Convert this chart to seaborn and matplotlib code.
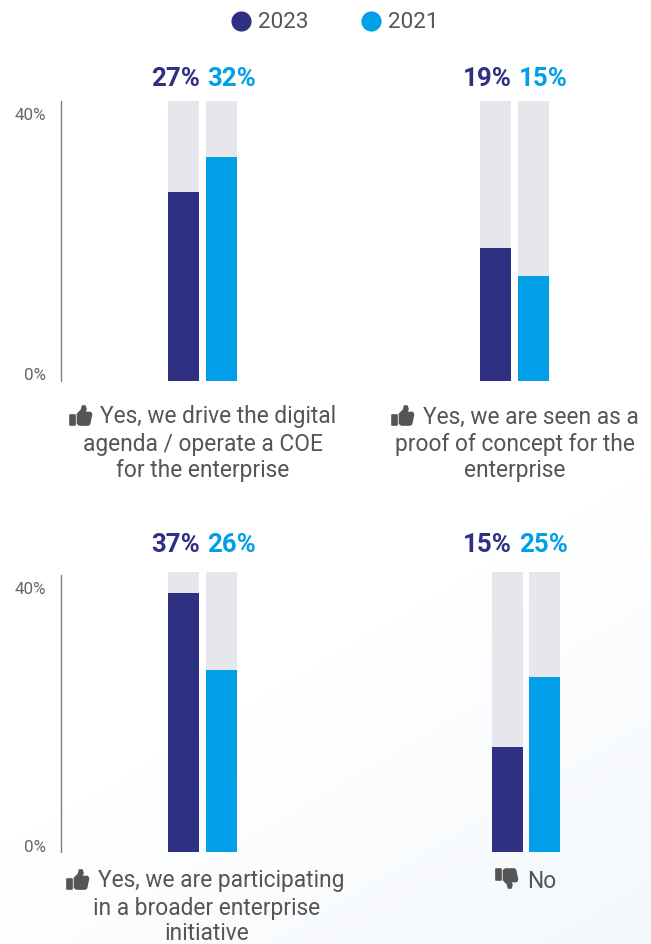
import matplotlib
matplotlib.use("Agg")
import matplotlib.pyplot as plt
import numpy as np
import pandas as pd
import seaborn as sns
from matplotlib.lines import Line2D
from matplotlib.patches import Polygon

sns.set_style("white")
plt.rcParams['font.family'] = ['Roboto', 'DejaVu Sans']

W, H = 651, 944
NAVY, BLUE, TRACK, GREY = "#2e3182", "#009fe8", "#e6e7ec", "#555558"

years = ["2023", "2021"]
values_a = [27, 32]
values_b = [19, 15]
values_c = [37, 26]
values_d = [15, 25]
track_max = 40
labels_a = ["Yes, we drive the digital", "agenda / operate a COE", "for the enterprise"]
labels_b = ["Yes, we are seen as a", "proof of concept for the", "enterprise"]
labels_c = ["Yes, we are participating", "in a broader enterprise", "initiative"]
labels_d = ["No"]

fig = plt.figure(figsize=(W / 100, H / 100), dpi=100)


def fx(x):
    return x / W


def fy(y):
    return 1 - y / H


def put_text(x, y, s, **kw):
    kw.setdefault("color", GREY)
    kw.setdefault("va", "center")
    fig.text(fx(x), fy(y), s, **kw)


def thumb(x, y, down=False):
    # icon drawn in a 23x21 px box, x/y is its top left corner
    hand = np.array([(8.5, 9), (12.5, 5), (13.5, 1), (16, 1), (17, 4), (15.5, 7.5), (21.5, 7.5),
                     (22.5, 9.5), (20.5, 19), (19, 20), (10.5, 20), (8.5, 18.5)], dtype=float)
    cuff = np.array([(0.5, 9.5), (5.5, 9.5), (5.5, 20), (0.5, 20)], dtype=float)
    for pts in (hand, cuff):
        if down:
            pts = np.column_stack([pts[:, 0], 21 - pts[:, 1]])
        xy = np.column_stack([fx(x + pts[:, 0]), fy(y + pts[:, 1])])
        fig.add_artist(Polygon(xy, closed=True, transform=fig.transFigure, fc=GREY, ec=GREY,
                               lw=1.2, joinstyle="round"))


# faint page wash, stronger towards the bottom right
bg = fig.add_axes([0, 0, 1, 1], zorder=-5)
gx, gy = np.meshgrid(np.linspace(0, 1, 200), np.linspace(0, 1, 300))
wash = np.clip((gx * 0.4 + gy - 0.9) / 0.5, 0, 1)
rgb = np.dstack([1 - wash * c for c in (0.045, 0.028, 0.012)])
bg.imshow(rgb, aspect="auto", extent=(0, 1, 1, 0))
bg.axis("off")


def panel(vals, first_centre, step, top, bottom):
    # axes spans just the two bars, x positions 0 and 1 are the bar centres
    left = first_centre - 15.5
    ax = fig.add_axes([fx(left), fy(bottom), fx(step + 31), (bottom - top) / H])
    ax.patch.set_alpha(0)
    df = pd.DataFrame({"year": years, "value": vals, "track": [track_max] * 2})
    sns.barplot(data=df, x="year", y="track", color=TRACK, width=31 / step, saturation=1,
                linewidth=0, ax=ax)
    sns.barplot(data=df, x="year", y="value", hue="year", palette=[NAVY, BLUE], width=31 / step,
                saturation=1, legend=False, dodge=False, linewidth=0, ax=ax)
    ax.set_xlim(-15.5 / step, 1 + 15.5 / step)
    ax.set_ylim(0, track_max)
    ax.set(xlabel="", ylabel="", xticks=[], yticks=[])
    sns.despine(ax=ax, left=True, bottom=True)
    return ax


def y_axis(left, top, bottom):
    fig.add_artist(Line2D([fx(left)] * 2, [fy(top), fy(bottom)], color="#808083", lw=1.0))


ax_a = panel(values_a, 183.5, 38, 101, 381)
ax_b = panel(values_b, 495.5, 38, 101, 381)
ax_c = panel(values_c, 183.5, 38, 572, 852)
ax_d = panel(values_d, 507.5, 37, 572, 852)

y_axis(61, 101, 381)
y_axis(61, 575, 852)
for y, s in [(115, "40%"), (376, "0%"), (589, "40%"), (847, "0%")]:
    put_text(46, y, s, ha="right", fontsize=12.2, color="#666669")

for vals, xm, y in [(values_a, 200, 79), (values_b, 512, 79), (values_c, 200, 545), (values_d, 512, 545)]:
    put_text(xm, y, f"{vals[0]}%", ha="right", color=NAVY, fontsize=18.6, fontweight="bold")
    put_text(xm + 7, y, f"{vals[1]}%", ha="left", color=BLUE, fontsize=18.6, fontweight="bold")

LAB = 16.4
for lines, xs, ys in [(labels_a, (218, 202.5, 202.5), (417, 444, 471)),
                      (labels_b, (531, 514.5, 514.5), (417, 444, 471)),
                      (labels_c, (221, 207, 207), (881, 908, 934))]:
    for s, x, y in zip(lines, xs, ys):
        put_text(x, y, s, ha="center", fontsize=LAB)
put_text(541.5, 881, labels_d[0], ha="center", fontsize=LAB)

thumb(69, 405)
thumb(391, 405)
thumb(66, 869)
thumb(495, 868, down=True)

handles = [Line2D([], [], ls="", marker="o", ms=14.5, color=c, mec="none") for c in (NAVY, BLUE)]
fig.legend(handles, years, loc="center", bbox_to_anchor=(fx(334), fy(23)), ncol=2, frameon=False,
           fontsize=16.2, labelcolor=GREY, handletextpad=0.25, columnspacing=2.26, handlelength=1.0)

fig.savefig("out.png", dpi=100)
plt.close(fig)
